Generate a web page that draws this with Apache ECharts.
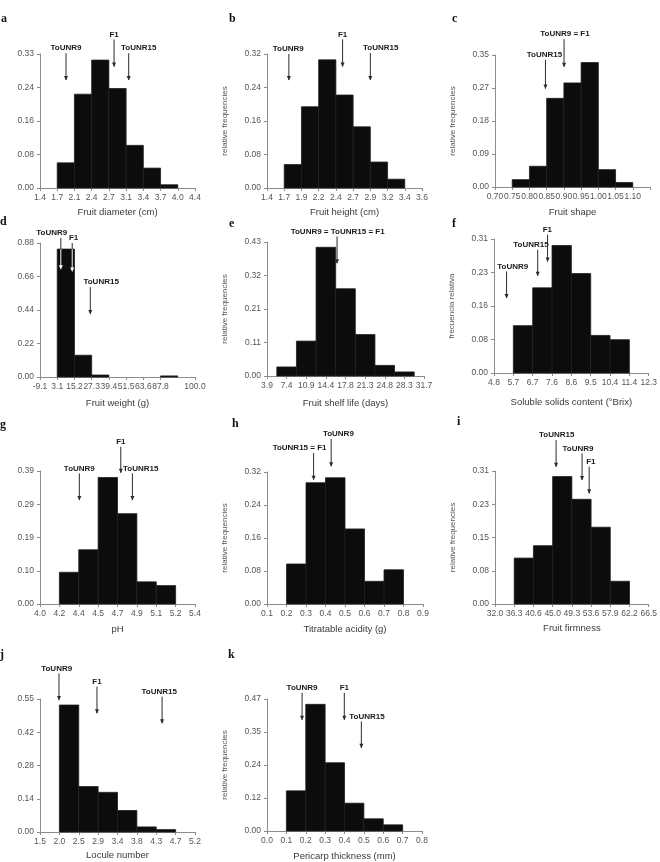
<!DOCTYPE html>
<html>
<head>
<meta charset="utf-8">
<script src="https://cdn.jsdelivr.net/npm/echarts/dist/echarts.min.js"></script>
<style>
  html, body { margin: 0; padding: 0; background: #fff; }
  #chart { width: 660px; height: 862px; }
</style>
</head>
<body>
<div id="chart"></div>
<script>
// a - fruit diameter
const diamTicks = ['1.4', '1.7', '2.1', '2.4', '2.7', '3.1', '3.4', '3.7', '4.0', '4.4'];
const diamY = ['0.00', '0.08', '0.16', '0.24', '0.33'];
const diamFreq = [0, 0.062, 0.231, 0.315, 0.245, 0.105, 0.049, 0.008, 0];
const diamArrows = [['ToUNR9', 1.51, 0.332, 0.266, 1.51], ['F1', 4.30, 0.366, 0.299, 4.30], ['ToUNR15', 5.15, 0.332, 0.266, 5.73]];

// b - fruit height
const heightTicks = ['1.4', '1.7', '1.9', '2.2', '2.4', '2.7', '2.9', '3.2', '3.4', '3.6'];
const heightY = ['0.00', '0.08', '0.16', '0.24', '0.32'];
const heightFreq = [0, 0.056, 0.194, 0.306, 0.222, 0.146, 0.062, 0.021, 0];
const heightArrows = [['ToUNR9', 1.27, 0.32, 0.258, 1.23], ['F1', 4.39, 0.355, 0.29, 4.39], ['ToUNR15', 6.0, 0.322, 0.258, 6.6]];

// c - fruit shape
const shapeTicks = ['0.70', '0.75', '0.80', '0.85', '0.90', '0.95', '1.00', '1.05', '1.10', ''];
const shapeY = ['0.00', '0.09', '0.18', '0.27', '0.35'];
const shapeFreq = [0, 0.0195, 0.055, 0.235, 0.276, 0.33, 0.046, 0.012, 0];
const shapeArrows = [['ToUNR15', 2.93, 0.337, 0.261, 2.87], ['ToUNR9 = F1', 4.01, 0.392, 0.319, 4.06]];

// d - fruit weight
const weightTicks = ['-9.1', '3.1', '15.2', '27.3', '39.4', '51.5', '63.6', '87.8', '75.7', '100.0'];
const weightY = ['0.00', '0.22', '0.44', '0.66', '0.88'];
const weightFreq = [0, 0.84, 0.143, 0.013, 0, 0, 0, 0.007, 0];
const weightArrows = [['ToUNR9', 1.21, 0.913, 0.708, 0.68], ['F1', 1.87, 0.88, 0.693, 1.95], ['ToUNR15', 2.92, 0.59, 0.414, 3.55]];

// e - shelf life (bins centred on ticks)
const shelfTicks = ['3.9', '7.4', '10.9', '14.4', '17.8', '21.3', '24.8', '28.3', '31.7'];
const shelfY = ['0.00', '0.11', '0.21', '0.32', '0.43'];
const shelfFreq = [0, 0.029, 0.112, 0.413, 0.28, 0.133, 0.034, 0.013, 0];
const shelfArrows = [['ToUNR9 = ToUNR15 = F1', 3.57, 0.448, 0.362, 3.6]];

// f - soluble solids
const brixTicks = ['4.8', '5.7', '6.7', '7.6', '8.6', '9.5', '10.4', '11.4', '12.3'];
const brixY = ['0.00', '0.08', '0.16', '0.23', '0.31'];
const brixFreq = [0, 0.1095, 0.197, 0.295, 0.23, 0.087, 0.077, 0];
const brixArrows = [['ToUNR9', 0.65, 0.235, 0.1735, 0.97], ['ToUNR15', 2.26, 0.285, 0.225, 1.91], ['F1', 2.77, 0.32, 0.258, 2.76]];

// g - pH
const phTicks = ['4.0', '4.2', '4.4', '4.5', '4.7', '4.9', '5.1', '5.2', '5.4'];
const phY = ['0.00', '0.10', '0.19', '0.29', '0.39'];
const phFreq = [0, 0.093, 0.159, 0.371, 0.265, 0.065, 0.054, 0];
const phArrows = [['ToUNR9', 2.03, 0.383, 0.305, 2.03], ['F1', 4.17, 0.461, 0.385, 4.17], ['ToUNR15', 4.77, 0.383, 0.305, 5.2]];

// h - titratable acidity
const acidTicks = ['0.1', '0.2', '0.3', '0.4', '0.5', '0.6', '0.7', '0.8', '0.9'];
const acidY = ['0.00', '0.08', '0.16', '0.24', '0.32'];
const acidFreq = [0, 0.097, 0.294, 0.306, 0.182, 0.055, 0.083, 0];
const acidArrows = [['ToUNR15 = F1', 2.39, 0.366, 0.3015, 1.67], ['ToUNR9', 3.29, 0.4, 0.334, 3.66]];

// i - firmness
const firmTicks = ['32.0', '36.3', '40.6', '45.0', '49.3', '53.6', '57.9', '62.2', '66.5'];
const firmY = ['0.00', '0.08', '0.15', '0.23', '0.31'];
const firmFreq = [0, 0.107, 0.136, 0.297, 0.244, 0.179, 0.053, 0];
const firmArrows = [['ToUNR15', 3.18, 0.382, 0.32, 3.21], ['ToUNR9', 4.53, 0.351, 0.289, 4.32], ['F1', 4.9, 0.32, 0.258, 4.99]];

// j - locule number
const loculeTicks = ['1.5', '2.0', '2.5', '2.9', '3.4', '3.8', '4.3', '4.7', '5.2'];
const loculeY = ['0.00', '0.14', '0.28', '0.42', '0.55'];
const loculeFreq = [0, 0.525, 0.188, 0.164, 0.089, 0.021, 0.01, 0];
const loculeArrows = [['ToUNR9', 0.98, 0.656, 0.546, 0.86], ['F1', 2.94, 0.601, 0.491, 2.94], ['ToUNR15', 6.3, 0.56, 0.45, 6.15]];

// k - pericarp thickness
const pericarpTicks = ['0.0', '0.1', '0.2', '0.3', '0.4', '0.5', '0.6', '0.7', '0.8'];
const pericarpY = ['0.00', '0.12', '0.24', '0.35', '0.47'];
const pericarpFreq = [0, 0.143, 0.451, 0.243, 0.099, 0.0435, 0.022, 0];
const pericarpArrows = [['ToUNR9', 1.81, 0.492, 0.396, 1.81], ['F1', 3.99, 0.492, 0.396, 3.99], ['ToUNR15', 4.87, 0.39, 0.296, 5.16]];

const REL = 'relative frequencies';
const panels = [
  {key: 'a', ticks: diamTicks, yTicks: diamY, freq: diamFreq, arrows: diamArrows, xName: 'Fruit diameter (cm)', yName: '', box: [40, 54, 155, 134], nameGap: 19, binOffset: 0, letter: [1, 13]},
  {key: 'b', ticks: heightTicks, yTicks: heightY, freq: heightFreq, arrows: heightArrows, xName: 'Fruit height (cm)', yName: REL, box: [267, 54, 155, 134], nameGap: 19, binOffset: 0, letter: [229, 13]},
  {key: 'c', ticks: shapeTicks, yTicks: shapeY, freq: shapeFreq, arrows: shapeArrows, xName: 'Fruit shape', yName: REL, box: [495, 55, 155, 132], nameGap: 20, binOffset: 0, letter: [452, 13]},
  {key: 'd', ticks: weightTicks, yTicks: weightY, freq: weightFreq, arrows: weightArrows, xName: 'Fruit weight (g)', yName: '', box: [40, 243, 155, 134], nameGap: 21, binOffset: 0, letter: [0, 216]},
  {key: 'e', ticks: shelfTicks, yTicks: shelfY, freq: shelfFreq, arrows: shelfArrows, xName: 'Fruit shelf life (days)', yName: REL, box: [267, 242, 157, 134], nameGap: 22, binOffset: -0.5, letter: [229, 218]},
  {key: 'f', ticks: brixTicks, yTicks: brixY, freq: brixFreq, arrows: brixArrows, xName: 'Soluble solids content (°Brix)', yName: 'frecuencia relativa', box: [494, 239, 156, 134], nameGap: 24, binOffset: 0, letter: [452, 218]},
  {key: 'g', ticks: phTicks, yTicks: phY, freq: phFreq, arrows: phArrows, xName: 'pH', yName: '', box: [40, 471, 155, 133], nameGap: 20, binOffset: 0, letter: [0, 419]},
  {key: 'h', ticks: acidTicks, yTicks: acidY, freq: acidFreq, arrows: acidArrows, xName: 'Titratable acidity (g)', yName: REL, box: [267, 472, 156, 132], nameGap: 20, binOffset: 0, letter: [232, 418]},
  {key: 'i', ticks: firmTicks, yTicks: firmY, freq: firmFreq, arrows: firmArrows, xName: 'Fruit firmness', yName: REL, box: [495, 471, 155, 133], nameGap: 19, binOffset: 0, letter: [457, 416]},
  {key: 'j', ticks: loculeTicks, yTicks: loculeY, freq: loculeFreq, arrows: loculeArrows, xName: 'Locule number', yName: '', box: [40, 699, 155, 133], nameGap: 18, binOffset: 0, letter: [0, 649]},
  {key: 'k', ticks: pericarpTicks, yTicks: pericarpY, freq: pericarpFreq, arrows: pericarpArrows, xName: 'Pericarp thickness (mm)', yName: REL, box: [267, 699, 155, 133], nameGap: 20, binOffset: 0, letter: [228, 649]}
];

const FONT = '"Liberation Sans", Arial, sans-serif';
const AXIS = '#8c8c8c';
const DARK = '#2b2b2b';

function renderBar(params, api) {
  const a = api.coord([api.value(0), api.value(2)]);
  const b = api.coord([api.value(1), 0]);
  return {
    type: 'rect',
    shape: {x: a[0], y: a[1], width: b[0] - a[0], height: b[1] - a[1]},
    style: {fill: '#0c0c0c', stroke: '#1e1e1e', lineWidth: 0.8}
  };
}

// arrow + label; the part of the shaft that sits inside a bar is drawn white
function arrowRenderer(p) {
  return function (params, api) {
    const x = api.value(0), top = api.value(1), bot = api.value(2), lx = api.value(3);
    const name = p.arrows[params.dataIndex][0];
    const barVal = p.freq[Math.floor(x - p.binOffset)] || 0;
    const inBar = barVal > bot;
    const split = Math.min(top, Math.max(bot, barVal));
    const pTop = api.coord([x, top]);
    const pBot = api.coord([x, bot]);
    const pSplit = api.coord([x, split]);
    const children = [];
    if (pSplit[1] > pTop[1]) {
      children.push({type: 'line', shape: {x1: pTop[0], y1: pTop[1], x2: pSplit[0], y2: pSplit[1]}, style: {stroke: DARK, lineWidth: 1}});
    }
    if (inBar && pBot[1] > pSplit[1]) {
      children.push({type: 'line', shape: {x1: pSplit[0], y1: pSplit[1], x2: pBot[0], y2: pBot[1] - 2}, style: {stroke: '#fff', lineWidth: 1}});
    }
    const hx = pBot[0], hy = pBot[1];
    children.push({type: 'polygon', shape: {points: [[hx - 2, hy - 4], [hx + 2, hy - 4], [hx, hy + 0.5]]}, style: {fill: inBar ? '#fff' : DARK}});
    children.push({
      type: 'text',
      x: api.coord([lx, top])[0],
      y: pTop[1] - 1,
      style: {text: name, fill: '#1a1a1a', font: 'bold 8px ' + FONT, align: 'center', verticalAlign: 'bottom'}
    });
    return {type: 'group', children: children};
  };
}

const grid = [], xAxis = [], yAxis = [], series = [], title = [];
panels.forEach((p, i) => {
  const [left, top, width, height] = p.box;
  grid.push({left: left, top: top, width: width, height: height, containLabel: false});
  xAxis.push({
    type: 'value', gridIndex: i, min: 0, max: p.ticks.length - 1, interval: 1,
    axisLine: {show: true, onZero: false, lineStyle: {color: AXIS, width: 1}},
    axisTick: {show: true, length: 3, lineStyle: {color: AXIS}},
    splitLine: {show: false},
    axisLabel: {
      formatter: v => p.ticks[Math.round(v)] || '', fontSize: 8.5, color: '#555',
      fontFamily: FONT, margin: 5, showMinLabel: true, showMaxLabel: true
    },
    name: p.xName, nameLocation: 'middle', nameGap: p.nameGap,
    nameTextStyle: {fontSize: 9.5, color: '#3a3a3a', fontFamily: FONT}
  });
  const ymax = parseFloat(p.yTicks[p.yTicks.length - 1]);
  const step = ymax / (p.yTicks.length - 1);
  yAxis.push({
    type: 'value', gridIndex: i, min: 0, max: ymax, interval: step,
    axisLine: {show: true, lineStyle: {color: AXIS, width: 1}},
    axisTick: {show: true, length: 3, lineStyle: {color: AXIS}},
    splitLine: {show: false},
    axisLabel: {formatter: v => p.yTicks[Math.round(v / step)] || '', fontSize: 8.5, color: '#555', fontFamily: FONT, margin: 6},
    name: p.yName, nameLocation: 'middle', nameGap: 38, nameRotate: 90,
    nameTextStyle: {fontSize: 8, color: '#555', fontFamily: FONT}
  });
  const bins = p.freq.map((v, k) => [k + p.binOffset, k + 1 + p.binOffset, v]).filter(b => b[2] > 0);
  series.push({
    type: 'custom', xAxisIndex: i, yAxisIndex: i, data: bins,
    encode: {x: [0, 1], y: 2}, renderItem: renderBar, silent: true, animation: false
  });
  series.push({
    type: 'custom', xAxisIndex: i, yAxisIndex: i,
    data: p.arrows.map(a => [a[1], a[2], a[3], a[4]]),
    encode: {x: 0, y: 1}, renderItem: arrowRenderer(p), silent: true, animation: false, z: 5, clip: false
  });
  title.push({
    text: p.key, left: p.letter[0], top: p.letter[1], padding: 0,
    textStyle: {fontFamily: '"Liberation Serif", "DejaVu Serif", serif', fontWeight: 'bold', fontSize: 12, color: '#111'}
  });
});

const chart = echarts.init(document.getElementById('chart'), null, {renderer: 'canvas'});
chart.setOption({
  backgroundColor: '#fff',
  animation: false,
  textStyle: {fontFamily: FONT},
  title: title,
  grid: grid,
  xAxis: xAxis,
  yAxis: yAxis,
  series: series
});
</script>
</body>
</html>
